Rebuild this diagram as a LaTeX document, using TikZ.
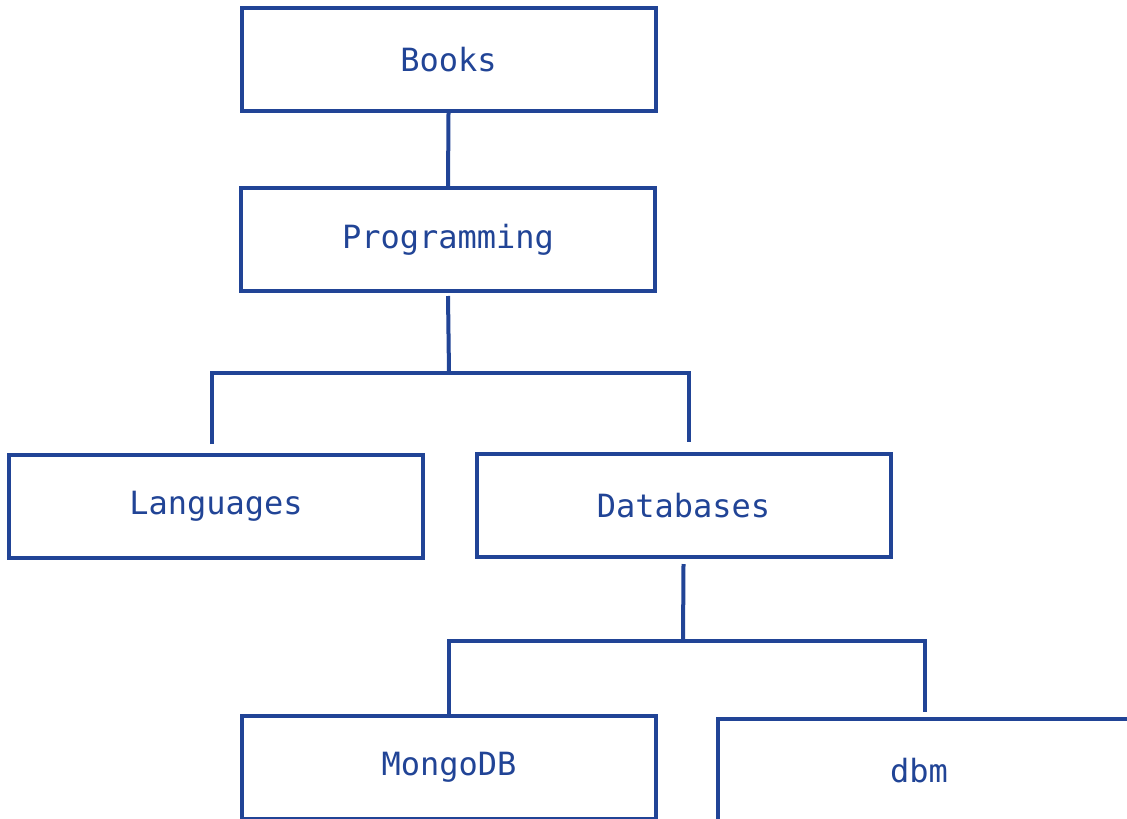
\documentclass[tikz,border=0pt]{standalone}
\usepackage{fontspec}
\setmonofont{DejaVu Sans Mono}
\definecolor{treeblue}{RGB}{33,68,150}
\tikzset{
  catbox/.style={draw=treeblue, line width=2pt, minimum width=207pt, minimum height=51.5pt,
    inner sep=0pt, text=treeblue, font=\ttfamily\fontsize{16}{19}\selectfont},
  link/.style={draw=treeblue, line width=2pt}
}
\begin{document}
\begin{tikzpicture}[x=0.5pt,y=-0.5pt]
                    \useasboundingbox (0,0) rectangle (1127,818);
                    \clip (0,0) rectangle (1127,818);
                    \node[catbox] (books) at (448.5,59.5) {Books};
                    \node[catbox] (prog) at (448,239.5) {Programming};
                    \node[catbox] (lang) at (216,506.5) {Languages};
                    \node[catbox] (db) at (683.5,505.5) {Databases};
                    \node[catbox] (mongo) at (449,767.5) {MongoDB};
                    \node[catbox] (dbm) at (925,770.5) {\hspace*{-6pt}dbm};
                    \coordinate (pj) at (449,373);
                    \coordinate (dj) at (683,641);
                    \draw[link] (books.south) -- (prog.north);
                    \draw[link] ([yshift=-1.5pt]prog.south) -- (pj);
                    \draw[link] ([xshift=-2pt,yshift=4.5pt]lang.north) |- (pj) -| ([xshift=2.75pt,yshift=5pt]db.north);
                    \draw[link] ([yshift=-2.5pt]db.south) -- (dj);
                    \draw[link] (mongo.north) |- (dj) -| ([yshift=2.5pt]dbm.north);
                \end{tikzpicture}
\end{document}
